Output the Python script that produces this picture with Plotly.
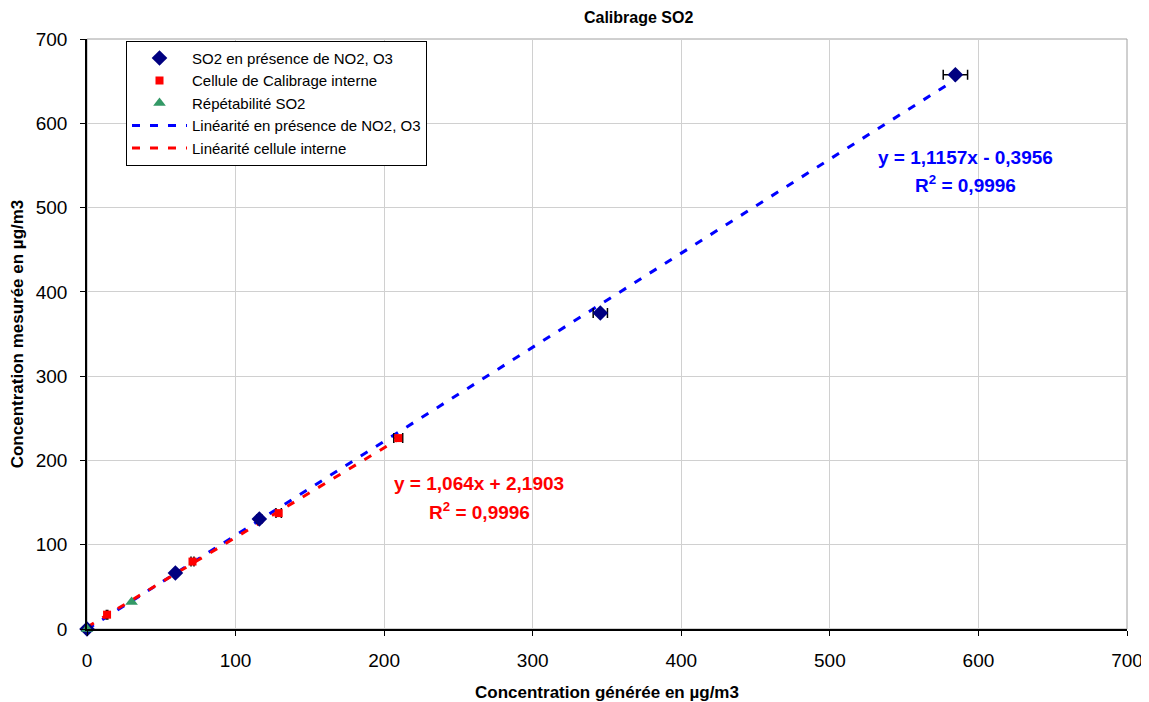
import numpy as np
import plotly.graph_objects as go

# --- data ---
blue_x = [0, 59.5, 116, 345.5, 584.5]
blue_y = [0, 66.5, 130.5, 375, 657.5]
blue_xerr = [0, 0.8, 1.6, 4.8, 8.2]

red_x = [13.5, 71, 129, 209.5]
red_y = [17, 80, 137.5, 226.5]
red_xerr = [0.5, 1.0, 1.8, 3.0]

green_x = [0, 30]
green_y = [0, 32]

blue_fit = (1.1157, -0.3956)
red_fit = (1.064, 2.1903)

x_ticks = [0, 100, 200, 300, 400, 500, 600, 700]
y_ticks = [0, 100, 200, 300, 400, 500, 600, 700]

FONT = "Liberation Sans, Arial, sans-serif"

fig = go.Figure()

bx = np.array([0, max(blue_x)])
rx = np.array([0, max(red_x)])

fig.add_trace(go.Scatter(
    x=bx, y=blue_fit[0] * bx + blue_fit[1], mode="lines",
    name="Linéarité en présence de NO2, O3", legendrank=4,
    line=dict(color="#0000FF", width=3, dash="8px,10px"), hoverinfo="skip"))
fig.add_trace(go.Scatter(
    x=rx, y=red_fit[0] * rx + red_fit[1], mode="lines",
    name="Linéarité cellule interne", legendrank=5,
    line=dict(color="#FF0000", width=3, dash="8px,10px"), hoverinfo="skip"))

fig.add_trace(go.Scatter(
    x=blue_x, y=blue_y, mode="markers", name="SO2 en présence de NO2, O3",
    legendrank=1, cliponaxis=False,
    marker=dict(symbol="diamond", size=12, color="#000080"),
    error_x=dict(type="data", array=blue_xerr, color="black", thickness=1.5, width=5)))
fig.add_trace(go.Scatter(
    x=red_x, y=red_y, mode="markers", name="Cellule de Calibrage interne",
    legendrank=2, cliponaxis=False,
    marker=dict(symbol="square", size=8, color="#FF0000"),
    error_x=dict(type="data", array=red_xerr, color="black", thickness=1.5, width=5)))
fig.add_trace(go.Scatter(
    x=green_x, y=green_y, mode="markers", name="Répétabilité SO2",
    legendrank=3, cliponaxis=False,
    marker=dict(symbol="triangle-up", size=11, color="#339966")))

ann_font = dict(family=FONT, size=19)
annotations = [
    dict(x=591, y=560, text="<b>y = 1,1157x - 0,3956</b>", font=dict(color="#0000FF", **ann_font)),
    dict(x=591, y=528, text="<b>R<sup>2</sup> = 0,9996</b>", font=dict(color="#0000FF", **ann_font)),
    dict(x=264, y=173, text="<b>y = 1,064x + 2,1903</b>", font=dict(color="#FF0000", **ann_font)),
    dict(x=264, y=140, text="<b>R<sup>2</sup> = 0,9996</b>", font=dict(color="#FF0000", **ann_font)),
]
for a in annotations:
    a.update(xref="x", yref="y", showarrow=False, xanchor="center", yanchor="middle")

# page body has an 8px margin: figure is sized so the plot area lands where the reference has it
fig.update_layout(
    width=1141, height=694,
    margin=dict(l=79, r=22, t=31, b=73),
    paper_bgcolor="white", plot_bgcolor="white",
    font=dict(family=FONT, color="black"),
    title=dict(text="<b>Calibrage SO2</b>", x=0.5527, xanchor="center", y=0.986, yanchor="middle",
               font=dict(size=16, family=FONT)),
    showlegend=True,
    legend=dict(x=0.0375, y=0.997, xanchor="left", yanchor="top",
                bgcolor="white", bordercolor="black", borderwidth=1,
                font=dict(size=15, family=FONT), tracegroupgap=0,
                itemwidth=55),
    annotations=annotations,
    shapes=[dict(type="rect", xref="paper", yref="paper", x0=0, y0=0, x1=1, y1=1,
                 line=dict(color="#A0A0A0", width=1), layer="below")],
)

fig.update_xaxes(
    range=[0, 700], tickvals=x_ticks, showgrid=True, gridcolor="#D0D0D0", gridwidth=1,
    showline=True, linecolor="black", linewidth=1.5, zeroline=False, automargin=False,
    ticks="outside", ticklen=5, tickcolor="black", tickfont=dict(size=19, family=FONT),
    ticklabelstandoff=8,
    title=dict(text="<b>Concentration générée en µg/m3</b>", font=dict(size=17, family=FONT), standoff=20))
fig.update_yaxes(
    range=[0, 700], tickvals=y_ticks, showgrid=True, gridcolor="#D0D0D0", gridwidth=1,
    showline=True, linecolor="black", linewidth=1.5, zeroline=False, automargin=False,
    ticks="outside", ticklen=5, tickcolor="black", tickfont=dict(size=19, family=FONT),
    ticklabelstandoff=9,
    title=dict(text="<b>Concentration mesurée en µg/m3</b>", font=dict(size=17, family=FONT), standoff=8))

fig.write_html("out.html")
